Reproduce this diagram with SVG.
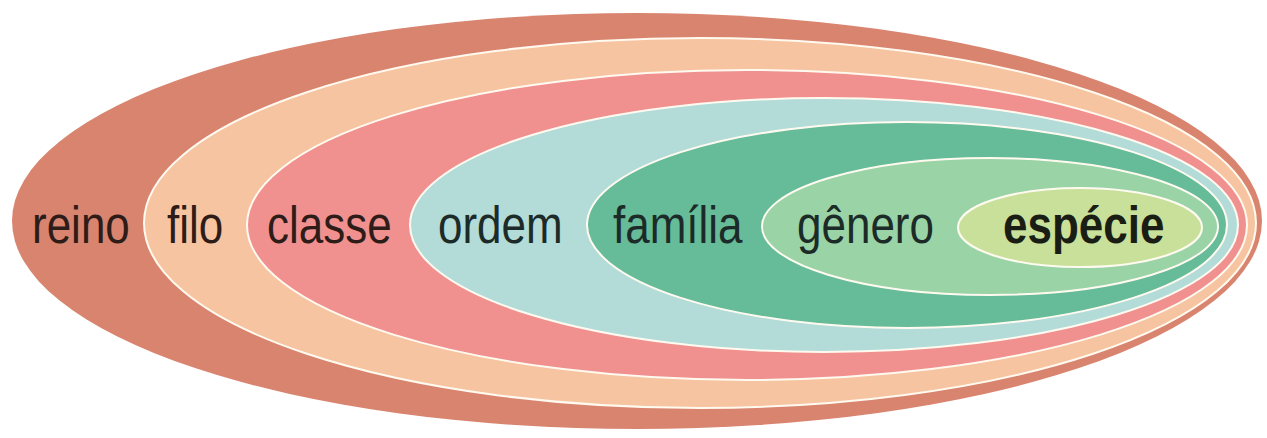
<svg xmlns="http://www.w3.org/2000/svg" width="1267" height="438" viewBox="0 0 1267 438">
<style>
.ring{stroke:#fffaf0;stroke-width:2}
.lbl{font-family:"Liberation Sans",Arial,sans-serif;font-size:44px}
.warm{fill:#2e1c18}
.cool{fill:#1c2b27}
.bold{font-weight:bold;fill:#1a1d14}
</style>
<rect width="1267" height="438" fill="#ffffff"/>
<g id="reino">
<ellipse cx="637" cy="221" rx="625" ry="208" fill="#d9846f"/>
<text class="lbl warm" transform="matrix(1,0,0,1.17,32,243)">reino</text>
</g>
<g id="filo">
<ellipse class="ring" cx="700" cy="223" rx="556" ry="185" fill="#f6c4a0"/>
<text class="lbl warm" transform="matrix(1,0,0,1.17,167,243)">filo</text>
</g>
<g id="classe">
<ellipse class="ring" cx="747" cy="225" rx="500" ry="155" fill="#f09190"/>
<text class="lbl warm" transform="matrix(1,0,0,1.17,267,243)">classe</text>
</g>
<g id="ordem">
<ellipse class="ring" cx="824" cy="225" rx="414" ry="127" fill="#b3dbd8"/>
<text class="lbl cool" transform="matrix(1,0,0,1.17,438,243)">ordem</text>
</g>
<g id="familia">
<ellipse class="ring" cx="907" cy="225" rx="320" ry="103" fill="#66bb99"/>
<text class="lbl cool" transform="matrix(1,0,0,1.17,613,243)">família</text>
</g>
<g id="genero">
<ellipse class="ring" cx="990" cy="226.5" rx="228" ry="68.5" fill="#99d3a6"/>
<text class="lbl cool" transform="matrix(1,0,0,1.17,797,243)">gênero</text>
</g>
<g id="especie">
<ellipse class="ring" cx="1080" cy="227.5" rx="122" ry="39.5" fill="#c8e09a" stroke="#fdfbe0"/>
<text class="lbl bold" transform="matrix(1,0,0,1.17,1003,243)">espécie</text>
</g>
<g id="connectors"/>
</svg>
